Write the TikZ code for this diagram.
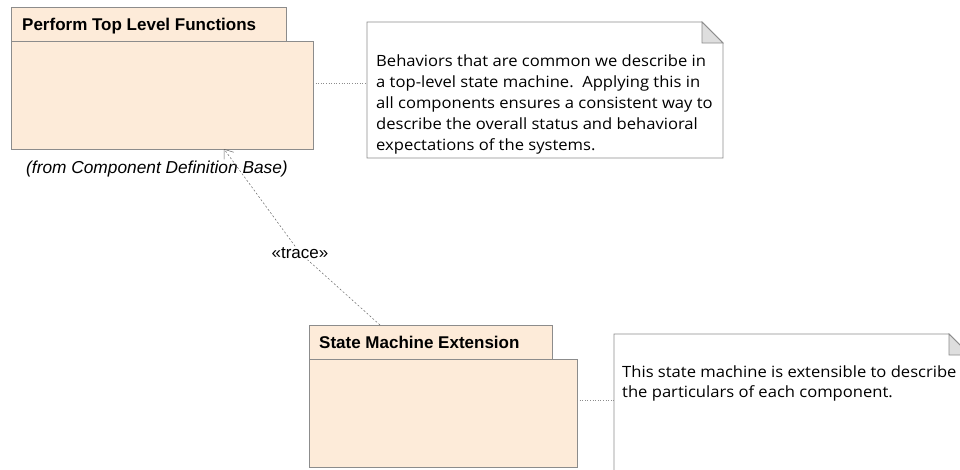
\documentclass[tikz,border=0pt]{standalone}
\usepackage{fontspec}
\setmainfont{Liberation Sans}
\newfontfamily\notefont[FakeStretch=1.07]{Open Sans}
\usetikzlibrary{arrows.meta}
\definecolor{pkgfill}{HTML}{FDEBD9}
\definecolor{edge}{HTML}{8C8C8C}
\definecolor{foldfill}{HTML}{DEDEDE}
\begin{document}
\begin{tikzpicture}[x=1pt,y=-1pt,
  pkg/.style={draw=edge,fill=pkgfill,line width=0.8pt},
  notebox/.style={draw=edge,fill=white,line width=0.8pt},
  fold/.style={draw=edge,fill=foldfill,line width=0.8pt},
  pkgtitle/.style={anchor=base west,inner sep=0pt,font=\fontsize{17}{20}\selectfont\bfseries},
  notetext/.style={anchor=north west,inner sep=0pt,align=left,font=\notefont\fontsize{15.5}{#1}\selectfont},
  anchorline/.style={draw=edge,dotted,line width=0.6pt},
  traceline/.style={draw=black!60,dashed,dash pattern=on 2pt off 2pt,line width=0.5pt}]
\useasboundingbox (0,0) rectangle (960,469);
% Package 1
\path[pkg] (11,7) rectangle (286,41);
\path[pkg] (11,41) rectangle (313,149);
\node[pkgtitle] (p1title) at (22,30.5) {Perform Top Level Functions};
\node[anchor=base,inner sep=0pt,font=\fontsize{17.3}{20}\selectfont\itshape] (p1from) at (157,173) {(from Component Definition Base)};
\coordinate (p1r) at (313,83);
\coordinate (p1b) at (224,149);
% Note 1
\path[notebox] (367,22) -- (702,22) -- (723,43) -- (723,158) -- (367,158) -- cycle;
\path[fold] (702,22) -- (702,43) -- (723,43) -- cycle;
\coordinate (n1l) at (367,83);
\node[notetext=21] (n1text) at (376,55) {Behaviors that are common we describe in\\a top-level state machine.\ \ Applying this in\\all components ensures a consistent way to\\describe the overall status and behavioral\\expectations of the systems.};
% Package 2
\path[pkg] (309,325) rectangle (552,359);
\path[pkg] (309,359) rectangle (577,467);
\node[pkgtitle] (p2title) at (319,348) {State Machine Extension};
\coordinate (p2r) at (577,400);
\coordinate (p2t) at (380,325);
% Note 2
\path[notebox] (614,334) -- (949,334) -- (970,355) -- (970,480) -- (614,480) -- cycle;
\path[fold] (949,334) -- (949,355) -- (970,355) -- cycle;
\coordinate (n2l) at (614,400);
\node[notetext=20] (n2text) at (622,365.2) {This state machine is extensible to describe\\the particulars of each component.};
% connectors
\draw[anchorline] (p1r) -- (n1l);
\draw[anchorline] (p2r) -- (n2l);
\node[fill=white,inner sep=1pt,font=\fontsize{17}{20}\selectfont] (trace) at (300,253) {«trace»};
\draw[traceline,-{Straight Barb[length=8pt,width=12pt,line width=0.5pt]}] (p2t) -- (trace) -- (p1b);
\end{tikzpicture}
\end{document}
